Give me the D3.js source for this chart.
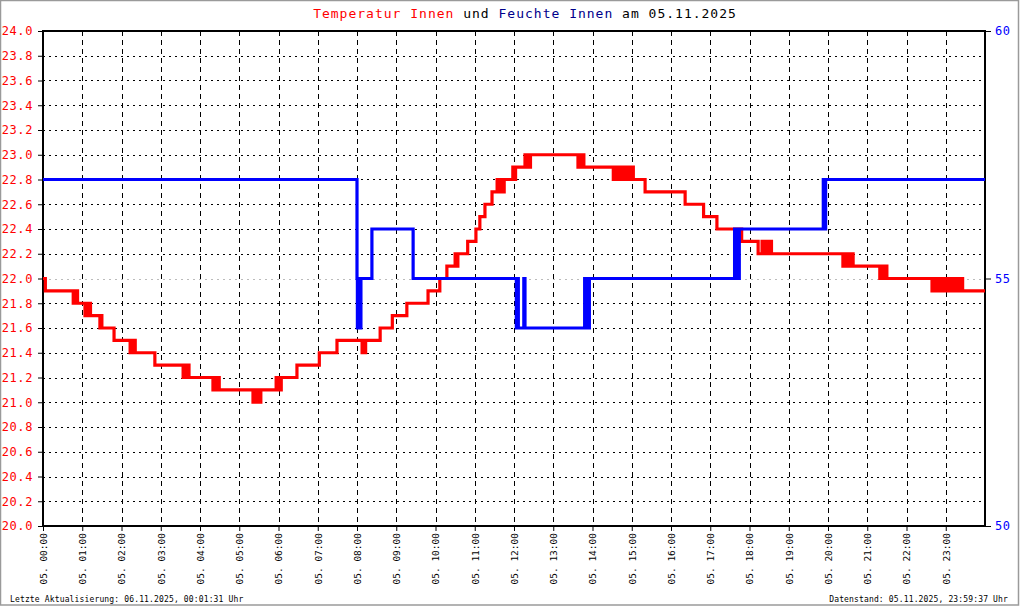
<!DOCTYPE html>
<html>
<head>
<meta charset="utf-8">
<script src="https://cdn.jsdelivr.net/npm/d3@7"></script>
<style>
  body { margin: 0; background: #fff; }
  svg { display: block; font-family: "DejaVu Sans Mono", "Liberation Mono", monospace; }
</style>
</head>
<body>
<svg id="chart" width="1020" height="606"></svg>
<script>
'use strict';

// temperature steps: [hour, °C] - each value holds until the next entry
var tempSteps = [
  [0.00, 22.0], [0.06, 21.9],
  [0.77, 21.8], [0.80, 21.9], [0.82, 21.8], [0.86, 21.9], [0.88, 21.8],
  [1.07, 21.7], [1.12, 21.8], [1.14, 21.7], [1.19, 21.8], [1.21, 21.7],
  [1.45, 21.6], [1.48, 21.7], [1.50, 21.6],
  [1.81, 21.5],
  [2.22, 21.4], [2.26, 21.5], [2.28, 21.4], [2.33, 21.5], [2.35, 21.4],
  [2.85, 21.3],
  [3.57, 21.2], [3.62, 21.3], [3.64, 21.2], [3.70, 21.3], [3.72, 21.2],
  [4.33, 21.1], [4.38, 21.2], [4.40, 21.1], [4.47, 21.2], [4.49, 21.1],
  [5.35, 21.0], [5.40, 21.1], [5.42, 21.0], [5.46, 21.1], [5.48, 21.0], [5.55, 21.1],
  [5.94, 21.2], [5.98, 21.1], [6.00, 21.2], [6.05, 21.1], [6.07, 21.2],
  [6.47, 21.3],
  [7.04, 21.4],
  [7.49, 21.5],
  [8.13, 21.4], [8.16, 21.5], [8.19, 21.4], [8.22, 21.5],
  [8.59, 21.6],
  [8.90, 21.7],
  [9.27, 21.8],
  [9.81, 21.9],
  [10.11, 22.0],
  [10.29, 22.1],
  [10.50, 22.2], [10.55, 22.1], [10.57, 22.2],
  [10.82, 22.3],
  [11.03, 22.4],
  [11.13, 22.5],
  [11.26, 22.6],
  [11.44, 22.7], [11.57, 22.8], [11.60, 22.7], [11.66, 22.8], [11.69, 22.7], [11.75, 22.8],
  [11.97, 22.9], [12.02, 22.8], [12.04, 22.9],
  [12.28, 23.0], [12.33, 22.9], [12.35, 23.0], [12.40, 22.9], [12.42, 23.0],
  [13.63, 22.9], [13.68, 23.0], [13.70, 22.9], [13.76, 23.0], [13.78, 22.9],
  [14.53, 22.8], [14.57, 22.9], [14.59, 22.8], [14.65, 22.9], [14.70, 22.8], [14.74, 22.9], [14.78, 22.8],
  [14.86, 22.9], [14.88, 22.8], [14.95, 22.9], [14.97, 22.8], [15.02, 22.9], [15.04, 22.8],
  [15.34, 22.7],
  [16.36, 22.6],
  [16.83, 22.5],
  [17.17, 22.4],
  [17.63, 22.3], [17.68, 22.4], [17.70, 22.3], [17.78, 22.4], [17.80, 22.3],
  [18.22, 22.2], [18.32, 22.3], [18.39, 22.2], [18.43, 22.3], [18.47, 22.2], [18.52, 22.3], [18.56, 22.2],
  [20.38, 22.1], [20.43, 22.2], [20.45, 22.1], [20.52, 22.2], [20.54, 22.1], [20.62, 22.2], [20.64, 22.1],
  [21.32, 22.0], [21.38, 22.1], [21.40, 22.0], [21.48, 22.1], [21.50, 22.0],
  [22.65, 21.9], [22.70, 22.0], [22.72, 21.9], [22.80, 22.0], [22.82, 21.9], [22.90, 22.0], [22.92, 21.9],
  [23.00, 22.0], [23.02, 21.9], [23.10, 22.0], [23.12, 21.9], [23.20, 22.0], [23.22, 21.9],
  [23.30, 22.0], [23.32, 21.9], [23.40, 22.0], [23.43, 21.9],
  [24.00, 21.9]
];

// humidity steps: [hour, %]
var humSteps = [
  [0.00, 57],
  [8.00, 55], [8.01, 54], [8.04, 55], [8.06, 54], [8.10, 55],
  [8.38, 56],
  [9.43, 55],
  [12.06, 54], [12.09, 55], [12.11, 54], [12.25, 55], [12.28, 54],
  [13.80, 55], [13.83, 54], [13.86, 55], [13.89, 54], [13.92, 55],
  [17.62, 56], [17.65, 55], [17.68, 56], [17.71, 55], [17.74, 56],
  [19.88, 57], [19.91, 56], [19.94, 57],
  [24.00, 57]
];

var hourTicks = d3.range(0, 24);
var tempTicks = d3.range(0, 21).map(function(i) { return +(20 + i * 0.2).toFixed(1); });
var humTicks = [50, 55, 60];

var titleParts = [
  {text: 'Temperatur Innen', color: '#ff0000'},
  {text: ' und ', color: '#000000'},
  {text: 'Feuchte Innen', color: '#00008b'},
  {text: ' am 05.11.2025', color: '#000000'}
];
var footLeft = 'Letzte Aktualisierung: 06.11.2025, 00:01:31 Uhr';
var footRight = 'Datenstand: 05.11.2025, 23:59:37 Uhr';

(function() {
  var svg = d3.select('#chart');
  var pl = 43, pr = 985, pt = 31, pb = 526;

  var x = d3.scaleLinear().domain([0, 24]).range([pl, pr]);
  var yT = d3.scaleLinear().domain([20, 24]).range([pb, pt]);
  var yH = d3.scaleLinear().domain([50, 60]).range([pb, pt]);

  // outer frame
  svg.append('rect')
    .attr('x', 0.5).attr('y', 0.5).attr('width', 1018).attr('height', 604.5)
    .attr('fill', '#fff').attr('stroke', '#9a9a9a').attr('stroke-width', 1.5);

  // grid
  svg.append('g').selectAll('line')
    .data(tempTicks.filter(function(d) { return d > 20 && d < 24; }))
    .enter().append('line')
      .attr('x1', pl).attr('x2', pr)
      .attr('y1', function(d) { return Math.round(yT(d)) + 0.5; })
      .attr('y2', function(d) { return Math.round(yT(d)) + 0.5; })
      .attr('stroke', '#000').attr('stroke-dasharray', '2,4');

  svg.append('g').selectAll('line')
    .data(hourTicks.filter(function(d) { return d > 0; }))
    .enter().append('line')
      .attr('x1', function(d) { return Math.round(x(d)) + 0.5; })
      .attr('x2', function(d) { return Math.round(x(d)) + 0.5; })
      .attr('y1', pt).attr('y2', pb)
      .attr('stroke', '#000').attr('stroke-dasharray', '5,4');

  // grey grid line of the right axis at 55
  svg.append('line')
    .attr('x1', pl).attr('x2', pr)
    .attr('y1', Math.round(yH(55)) + 0.5).attr('y2', Math.round(yH(55)) + 0.5)
    .attr('stroke', '#bbb').attr('stroke-dasharray', '2,4');

  // axes
  var axL = svg.append('g')
    .attr('transform', 'translate(' + pl + ',0)')
    .call(d3.axisLeft(yT).tickValues(tempTicks).tickFormat(d3.format('.1f')).tickSize(5).tickPadding(5));
  axL.select('.domain').remove();
  axL.selectAll('line').attr('stroke', '#000');
  axL.selectAll('text').attr('fill', '#ff0000').style('font-size', '12px').style('letter-spacing', '0.6px')
    .style('font-family', '"DejaVu Sans Mono", monospace');

  var axR = svg.append('g')
    .attr('transform', 'translate(' + pr + ',0)')
    .call(d3.axisRight(yH).tickValues(humTicks).tickSize(6).tickPadding(4));
  axR.select('.domain').remove();
  axR.selectAll('line').attr('stroke', '#000');
  axR.selectAll('text').attr('fill', '#0000ff').style('font-size', '12px').style('letter-spacing', '0.6px')
    .style('font-family', '"DejaVu Sans Mono", monospace');

  var axB = svg.append('g')
    .attr('transform', 'translate(0,' + pb + ')')
    .call(d3.axisBottom(x).tickValues(hourTicks).tickSize(5).tickFormat(function(d) {
      return '05. ' + (d < 10 ? '0' : '') + d + ':00';
    }));
  axB.select('.domain').remove();
  axB.selectAll('line').attr('stroke', '#000');
  axB.selectAll('text')
    .attr('fill', '#000')
    .style('font-size', '9.5px')
    .style('font-family', '"DejaVu Sans Mono", monospace')
    .attr('text-anchor', 'end')
    .attr('transform', 'rotate(-90)')
    .attr('x', -7).attr('y', 0).attr('dy', '0.35em');

  // plot frame
  svg.append('rect')
    .attr('x', pl).attr('y', pt).attr('width', pr - pl).attr('height', pb - pt)
    .attr('fill', 'none').attr('stroke', '#000').attr('stroke-width', 2);

  // series
  var tLine = d3.line()
    .x(function(d) { return x(d[0]); })
    .y(function(d) { return yT(d[1]); })
    .curve(d3.curveStepAfter);
  var hLine = d3.line()
    .x(function(d) { return x(d[0]); })
    .y(function(d) { return yH(d[1]); })
    .curve(d3.curveStepAfter);

  svg.append('path').datum(tempSteps)
    .attr('d', tLine).attr('fill', 'none').attr('stroke', '#ff0000').attr('stroke-width', 3.2);
  svg.append('path').datum(humSteps)
    .attr('d', hLine).attr('fill', 'none').attr('stroke', '#0000ff').attr('stroke-width', 3.2);

  // title
  var title = svg.append('text')
    .attr('x', 525).attr('y', 18).attr('text-anchor', 'middle')
    .style('font-size', '13px').style('letter-spacing', '1px').attr('xml:space', 'preserve');
  title.selectAll('tspan').data(titleParts).enter().append('tspan')
    .attr('fill', function(d) { return d.color; })
    .text(function(d) { return d.text; });

  // footer
  svg.append('text').attr('x', 10).attr('y', 602)
    .style('font-size', '8px').style('letter-spacing', '0.15px').attr('fill', '#000')
    .text(footLeft);
  svg.append('text').attr('x', 1008).attr('y', 602).attr('text-anchor', 'end')
    .style('font-size', '8px').style('letter-spacing', '0.15px').attr('fill', '#000')
    .text(footRight);
})();
</script>
</body>
</html>
